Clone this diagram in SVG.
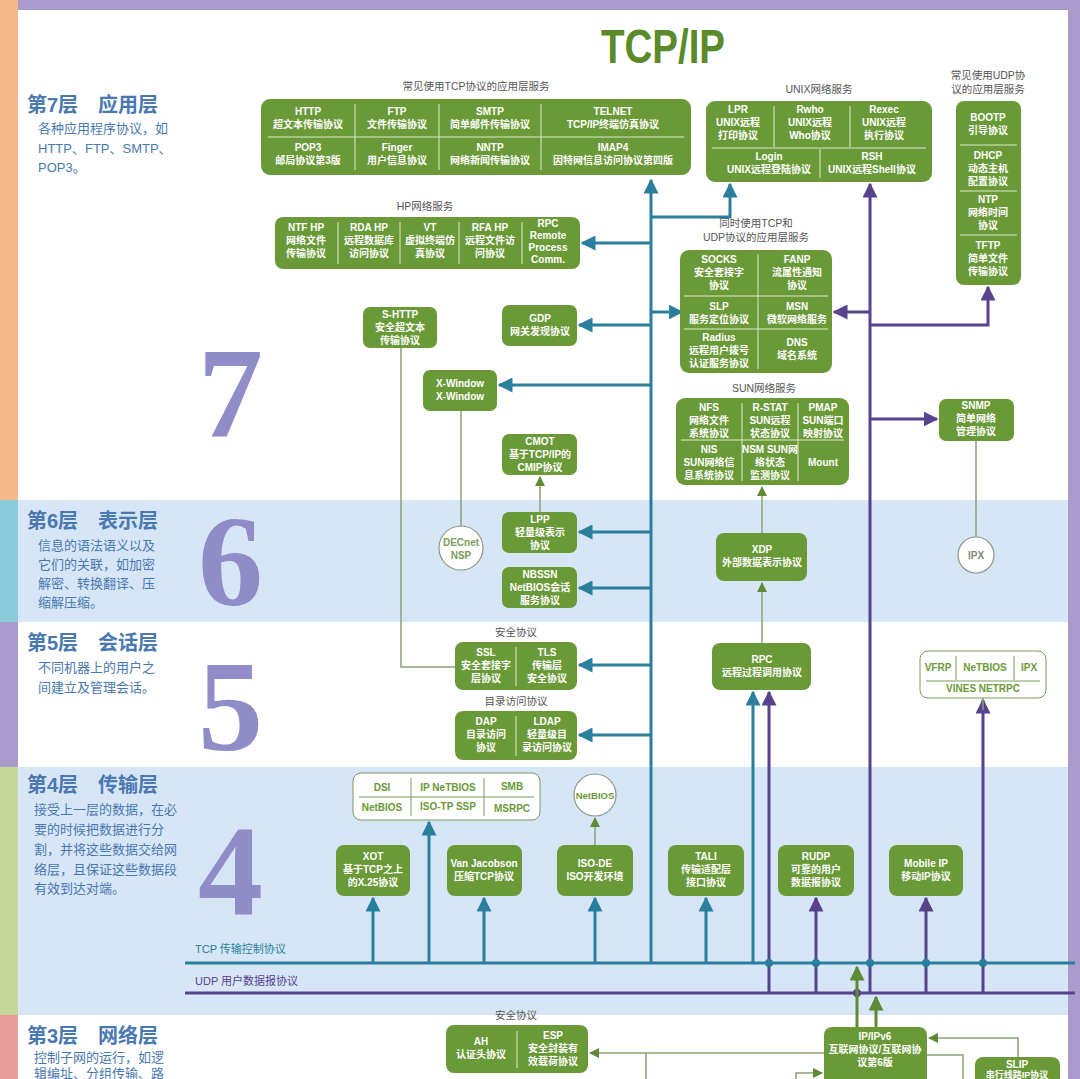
<svg xmlns="http://www.w3.org/2000/svg" width="1080" height="1079" viewBox="0 0 1080 1079">
<defs>
<marker id="at" viewBox="0 0 10 10" refX="9" refY="5" markerWidth="5" markerHeight="5" orient="auto" markerUnits="strokeWidth"><path d="M0,0L10,5L0,10z" fill="#2a7f9c"/></marker>
<marker id="ap" viewBox="0 0 10 10" refX="9" refY="5" markerWidth="5" markerHeight="5" orient="auto" markerUnits="strokeWidth"><path d="M0,0L10,5L0,10z" fill="#56438b"/></marker>
<marker id="ag" viewBox="0 0 10 10" refX="9" refY="5" markerWidth="5" markerHeight="5" orient="auto" markerUnits="strokeWidth"><path d="M0,0L10,5L0,10z" fill="#5e8a35"/></marker>
<marker id="ag2" viewBox="0 0 10 10" refX="9" refY="5" markerWidth="7" markerHeight="7" orient="auto" markerUnits="strokeWidth"><path d="M0,0L10,5L0,10z" fill="#5e8a35"/></marker>
</defs>
<style>
.b{fill:#6a9a37}
.w{fill:#fff;stroke:#7a9a5a;stroke-width:1}
.c{fill:#fff;stroke:#8a9a8a;stroke-width:1.2}
.d{stroke:#dfe9cf;stroke-width:1;fill:none}
.dg{stroke:#7a9a5a;stroke-width:1;fill:none}
text{font-family:"Liberation Sans","Noto Sans CJK SC",sans-serif}
.t{fill:#fff;font-size:10px;font-weight:bold;text-anchor:middle}
.g{fill:#6a9a37;font-size:10px;font-weight:bold;text-anchor:middle}
.lb{fill:#555;font-size:10.5px;text-anchor:middle}
.h{fill:#4a78b0;font-size:20px;font-weight:bold}
.s{fill:#4a78b0;font-size:13px}
.n{fill:#8f8cc8;font-size:130px;font-weight:bold;font-family:"Liberation Serif",serif}
.tc{fill:none;stroke:#2a7f9c;stroke-width:3}
.pu{fill:none;stroke:#56438b;stroke-width:3}
.gr{fill:none;stroke:#5e8a35;stroke-width:3}
.th{fill:none;stroke:#8aa07a;stroke-width:1.5}
</style>
<rect width="1080" height="1079" fill="#fff"/>
<rect x="0" y="500" width="1080" height="122" fill="#d6e6f7"/>
<rect x="0" y="767" width="1080" height="248" fill="#d6e6f7"/>
<rect x="0" y="0" width="18" height="500" fill="#f6b98c"/>
<rect x="0" y="500" width="18" height="122" fill="#8ccbd9"/>
<rect x="0" y="622" width="18" height="145" fill="#a99bcb"/>
<rect x="0" y="767" width="18" height="248" fill="#c5d89a"/>
<rect x="0" y="1015" width="18" height="64" fill="#e79d98"/>
<rect x="18" y="0" width="1062" height="10" fill="#a99bcb"/>
<rect x="1068" y="0" width="12" height="1079" fill="#a99bcb"/>

<g id="left">
<text class="h" x="27" y="112">第7层　应用层</text>
<text class="s" x="38" y="133">各种应用程序协议，如</text><text class="s" x="38" y="153">HTTP、FTP、SMTP、</text><text class="s" x="38" y="172">POP3。</text>
<text class="h" x="27" y="528">第6层　表示层</text>
<text class="s" x="38" y="550">信息的语法语义以及</text><text class="s" x="38" y="569">它们的关联，如加密</text><text class="s" x="38" y="588">解密、转换翻译、压</text><text class="s" x="38" y="607">缩解压缩。</text>
<text class="h" x="27" y="650">第5层　会话层</text>
<text class="s" x="38" y="672">不同机器上的用户之</text><text class="s" x="38" y="692">间建立及管理会话。</text>
<text class="h" x="27" y="792">第4层　传输层</text>
<text class="s" x="34" y="814">接受上一层的数据，在必</text><text class="s" x="34" y="834">要的时候把数据进行分</text><text class="s" x="34" y="854">割，并将这些数据交给网</text><text class="s" x="34" y="874">络层，且保证这些数据段</text><text class="s" x="34" y="893">有效到达对端。</text>
<text class="h" x="27" y="1043">第3层　网络层</text>
<text class="s" x="34" y="1062">控制子网的运行，如逻</text><text class="s" x="34" y="1078">辑编址、分组传输、路</text>
<text class="n" x="198" y="437">7</text><text class="n" x="198" y="605">6</text><text class="n" x="198" y="750">5</text><text class="n" x="198" y="915">4</text>
</g>
<text x="663" y="63" font-size="48" font-weight="bold" fill="#5a8a2a" text-anchor="middle" textLength="124" lengthAdjust="spacingAndGlyphs">TCP/IP</text>

<g id="connectors">
<path class="tc" d="M185,963H1075"/>
<path class="pu" d="M185,993H1075"/>
<text x="195" y="953" font-size="11" fill="#2a7f9c">TCP 传输控制协议</text>
<text x="195" y="985" font-size="11" fill="#56438b">UDP 用户数据报协议</text>
<path class="tc" d="M651,963V180" marker-end="url(#at)"/>
<path class="tc" d="M651,217H730V184" marker-end="url(#at)"/>
<path class="tc" d="M651,243H582" marker-end="url(#at)"/>
<path class="tc" d="M651,312H682" marker-end="url(#at)"/>
<path class="tc" d="M651,325H579" marker-end="url(#at)"/>
<path class="tc" d="M651,385H499" marker-end="url(#at)"/>
<path class="tc" d="M651,532H579" marker-end="url(#at)"/>
<path class="tc" d="M651,588H579" marker-end="url(#at)"/>
<path class="tc" d="M651,665H579" marker-end="url(#at)"/>
<path class="tc" d="M651,735H579" marker-end="url(#at)"/>
<path class="pu" d="M870,993V184" marker-end="url(#ap)"/>
<path class="pu" d="M870,312H834" marker-end="url(#ap)"/>
<path class="pu" d="M870,325H988V287" marker-end="url(#ap)"/>
<path class="pu" d="M870,419H937" marker-end="url(#ap)"/>
<path class="tc" d="M753,963V692" marker-end="url(#at)"/>
<path class="pu" d="M769,993V692" marker-end="url(#ap)"/>
<path class="pu" d="M983,993V700" marker-end="url(#ap)"/>
<path class="pu" d="M816,993V898" marker-end="url(#ap)"/>
<path class="pu" d="M926,993V898" marker-end="url(#ap)"/>
<path class="tc" d="M373,963V898" marker-end="url(#at)"/>
<path class="tc" d="M429,963V822" marker-end="url(#at)"/>
<path class="tc" d="M484,963V898" marker-end="url(#at)"/>
<path class="tc" d="M595,963V898" marker-end="url(#at)"/>
<path class="tc" d="M706,963V898" marker-end="url(#at)"/>
<g fill="#2a7f9c"><circle cx="769" cy="963" r="4"/><circle cx="816" cy="963" r="4"/><circle cx="870" cy="963" r="4"/><circle cx="926" cy="963" r="4"/><circle cx="983" cy="963" r="4"/></g>
<circle cx="857" cy="993" r="4" fill="#56438b"/>
<path class="gr" d="M857,1027V967" marker-end="url(#ag)"/>
<path class="gr" d="M876,1027V997" marker-end="url(#ag)"/>
<path class="th" d="M595,845V818" marker-end="url(#ag2)"/>
<path class="th" d="M540,512V477" marker-end="url(#ag2)"/>
<path class="th" d="M762,643V583" marker-end="url(#ag2)"/>
<path class="th" d="M762,533V487" marker-end="url(#ag2)"/>
<path class="th" d="M401,348V667H455"/>
<path class="th" d="M461,411V526"/>
<path class="th" d="M976,441V537"/>
<path class="th" d="M983,698V710"/>
<path class="th" d="M824,1053H590" marker-end="url(#ag2)"/>
<path class="th" d="M646,1053V1079"/>
<path class="th" d="M1018,1057V1038H929" marker-end="url(#ag2)"/>
<path class="th" d="M927,1055H963V1079"/>
<path class="th" d="M796,1079V1073H822" marker-end="url(#ag2)"/>
</g>

<g id="tcpapps">
<text class="lb" x="476" y="90">常见使用TCP协议的应用层服务</text>
<rect class="b" x="261" y="99" width="430" height="76" rx="9"/>
<path class="d" d="M268,137H684M355,104V170M439,104V170M541,104V170"/>
<text class="t" x="308" y="115">HTTP<tspan x="308" dy="13">超文本传输协议</tspan></text>
<text class="t" x="397" y="115">FTP<tspan x="397" dy="13">文件传输协议</tspan></text>
<text class="t" x="490" y="115">SMTP<tspan x="490" dy="13">简单邮件传输协议</tspan></text>
<text class="t" x="613" y="115">TELNET<tspan x="613" dy="13">TCP/IP终端仿真协议</tspan></text>
<text class="t" x="308" y="151">POP3<tspan x="308" dy="13">邮局协议第3版</tspan></text>
<text class="t" x="397" y="151">Finger<tspan x="397" dy="13">用户信息协议</tspan></text>
<text class="t" x="490" y="151">NNTP<tspan x="490" dy="13">网络新闻传输协议</tspan></text>
<text class="t" x="613" y="151">IMAP4<tspan x="613" dy="13">因特网信息访问协议第四版</tspan></text>
</g>
<g id="hp">
<text class="lb" x="425" y="210">HP网络服务</text>
<rect class="b" x="275" y="217" width="305" height="52" rx="8"/>
<path class="d" d="M338,222V264M400,222V264M459,222V264M522,222V264"/>
<text class="t" x="306" y="231">NTF HP<tspan x="306" dy="13">网络文件</tspan><tspan x="306" dy="13">传输协议</tspan></text>
<text class="t" x="369" y="231">RDA HP<tspan x="369" dy="13">远程数据库</tspan><tspan x="369" dy="13">访问协议</tspan></text>
<text class="t" x="430" y="231">VT<tspan x="430" dy="13">虚拟终端仿</tspan><tspan x="430" dy="13">真协议</tspan></text>
<text class="t" x="490" y="231">RFA HP<tspan x="490" dy="13">远程文件访</tspan><tspan x="490" dy="13">问协议</tspan></text>
<text class="t" x="548" y="227">RPC<tspan x="548" dy="12">Remote</tspan><tspan x="548" dy="12">Process</tspan><tspan x="548" dy="12">Comm.</tspan></text>
</g>
<g id="unix">
<text class="lb" x="819" y="93">UNIX网络服务</text>
<rect class="b" x="706" y="101" width="226" height="81" rx="9"/>
<path class="d" d="M712,148H926M774,106V147M850,106V147M820,149V178"/>
<text class="t" x="738" y="113">LPR<tspan x="738" dy="13">UNIX远程</tspan><tspan x="738" dy="13">打印协议</tspan></text>
<text class="t" x="810" y="113">Rwho<tspan x="810" dy="13">UNIX远程</tspan><tspan x="810" dy="13">Who协议</tspan></text>
<text class="t" x="884" y="113">Rexec<tspan x="884" dy="13">UNIX远程</tspan><tspan x="884" dy="13">执行协议</tspan></text>
<text class="t" x="769" y="160">Login<tspan x="769" dy="13">UNIX远程登陆协议</tspan></text>
<text class="t" x="872" y="160">RSH<tspan x="872" dy="13">UNIX远程Shell协议</tspan></text>
</g>
<g id="udpapps">
<text class="lb" x="988" y="79">常见使用UDP协<tspan x="988" dy="14">议的应用层服务</tspan></text>
<rect class="b" x="956" y="101" width="65" height="184" rx="8"/>
<path class="d" d="M960,145H1017M960,191H1017M960,235H1017"/>
<text class="t" x="988" y="121">BOOTP<tspan x="988" dy="13">引导协议</tspan></text>
<text class="t" x="988" y="159">DHCP<tspan x="988" dy="13">动态主机</tspan><tspan x="988" dy="13">配置协议</tspan></text>
<text class="t" x="988" y="203">NTP<tspan x="988" dy="13">网络时间</tspan><tspan x="988" dy="13">协议</tspan></text>
<text class="t" x="988" y="249">TFTP<tspan x="988" dy="13">简单文件</tspan><tspan x="988" dy="13">传输协议</tspan></text>
</g>
<g id="both">
<text class="lb" x="756" y="227">同时使用TCP和<tspan x="756" dy="14">UDP协议的应用层服务</tspan></text>
<rect class="b" x="680" y="250" width="152" height="123" rx="9"/>
<path class="d" d="M758,254V369M684,296H828M684,329H828"/>
<text class="t" x="719" y="263">SOCKS<tspan x="719" dy="13">安全套接字</tspan><tspan x="719" dy="13">协议</tspan></text>
<text class="t" x="797" y="263">FANP<tspan x="797" dy="13">流属性通知</tspan><tspan x="797" dy="13">协议</tspan></text>
<text class="t" x="719" y="310">SLP<tspan x="719" dy="13">服务定位协议</tspan></text>
<text class="t" x="797" y="310">MSN<tspan x="797" dy="13">微软网络服务</tspan></text>
<text class="t" x="719" y="341">Radius<tspan x="719" dy="13">远程用户拨号</tspan><tspan x="719" dy="13">认证服务协议</tspan></text>
<text class="t" x="797" y="346">DNS<tspan x="797" dy="13">域名系统</tspan></text>
</g>
<g id="sun">
<text class="lb" x="764" y="392">SUN网络服务</text>
<rect class="b" x="676" y="398" width="173" height="87" rx="9"/>
<path class="d" d="M742,403V481M798,403V481M681,440H844"/>
<text class="t" x="709" y="411">NFS<tspan x="709" dy="13">网络文件</tspan><tspan x="709" dy="13">系统协议</tspan></text>
<text class="t" x="770" y="411">R-STAT<tspan x="770" dy="13">SUN远程</tspan><tspan x="770" dy="13">状态协议</tspan></text>
<text class="t" x="823" y="411">PMAP<tspan x="823" dy="13">SUN端口</tspan><tspan x="823" dy="13">映射协议</tspan></text>
<text class="t" x="709" y="453">NIS<tspan x="709" dy="13">SUN网络信</tspan><tspan x="709" dy="13">息系统协议</tspan></text>
<text class="t" x="770" y="453">NSM SUN网<tspan x="770" dy="13">络状态</tspan><tspan x="770" dy="13">监测协议</tspan></text>
<text class="t" x="823" y="466">Mount</text>
</g>
<g id="snmp"><rect class="b" x="939" y="399" width="75" height="42" rx="7"/><text class="t" x="976" y="409">SNMP<tspan x="976" dy="13">简单网络</tspan><tspan x="976" dy="13">管理协议</tspan></text></g>
<g id="ipx"><circle class="c" cx="976" cy="555" r="18"/><text class="g" x="976" y="559" style="fill:#7a8a7a">IPX</text></g>
<g id="shttp"><rect class="b" x="363" y="307" width="74" height="41" rx="7"/><text class="t" x="400" y="318">S-HTTP<tspan x="400" dy="13">安全超文本</tspan><tspan x="400" dy="13">传输协议</tspan></text></g>
<g id="gdp"><rect class="b" x="502" y="305" width="75" height="41" rx="7"/><text class="t" x="540" y="322">GDP<tspan x="540" dy="13">网关发现协议</tspan></text></g>
<g id="xwin"><rect class="b" x="423" y="370" width="74" height="41" rx="7"/><text class="t" x="460" y="387">X-Window<tspan x="460" dy="13">X-Window</tspan></text></g>
<g id="cmot"><rect class="b" x="502" y="434" width="75" height="41" rx="7"/><text class="t" x="540" y="445">CMOT<tspan x="540" dy="13">基于TCP/IP的</tspan><tspan x="540" dy="13">CMIP协议</tspan></text></g>
<g id="decnet"><circle class="c" cx="461" cy="548" r="22"/><text class="g" x="461" y="546" style="fill:#7a9a5a">DECnet<tspan x="461" dy="13">NSP</tspan></text></g>
<g id="lpp"><rect class="b" x="502" y="512" width="75" height="41" rx="7"/><text class="t" x="540" y="523">LPP<tspan x="540" dy="13">轻量级表示</tspan><tspan x="540" dy="13">协议</tspan></text></g>
<g id="nbssn"><rect class="b" x="502" y="567" width="75" height="41" rx="7"/><text class="t" x="540" y="578">NBSSN<tspan x="540" dy="13">NetBIOS会话</tspan><tspan x="540" dy="13">服务协议</tspan></text></g>
<g id="ssl">
<text class="lb" x="516" y="636">安全协议</text>
<rect class="b" x="455" y="642" width="122" height="48" rx="8"/><path class="d" d="M516,647V686"/>
<text class="t" x="486" y="656">SSL<tspan x="486" dy="13">安全套接字</tspan><tspan x="486" dy="13">层协议</tspan></text>
<text class="t" x="547" y="656">TLS<tspan x="547" dy="13">传输层</tspan><tspan x="547" dy="13">安全协议</tspan></text>
</g>
<g id="dap">
<text class="lb" x="516" y="705">目录访问协议</text>
<rect class="b" x="455" y="711" width="122" height="49" rx="8"/><path class="d" d="M516,716V756"/>
<text class="t" x="486" y="725">DAP<tspan x="486" dy="13">目录访问</tspan><tspan x="486" dy="13">协议</tspan></text>
<text class="t" x="547" y="725">LDAP<tspan x="547" dy="13">轻量级目</tspan><tspan x="547" dy="13">录访问协议</tspan></text>
</g>
<g id="xdp"><rect class="b" x="716" y="533" width="91" height="48" rx="8"/><text class="t" x="762" y="553">XDP<tspan x="762" dy="13">外部数据表示协议</tspan></text></g>
<g id="rpc"><rect class="b" x="712" y="643" width="99" height="47" rx="8"/><text class="t" x="762" y="663">RPC<tspan x="762" dy="13">远程过程调用协议</tspan></text></g>
<g id="vines">
<rect class="w" x="920" y="651" width="126" height="47" rx="8"/><path class="dg" d="M926,681H1040M956,656V680M1014,656V680"/>
<text class="g" x="938" y="671">VFRP</text><text class="g" x="985" y="671">NeTBIOS</text><text class="g" x="1029" y="671">IPX</text>
<text class="g" x="983" y="692">VINES NETRPC</text>
</g>
<g id="dsi">
<rect class="w" x="353" y="773" width="187" height="47" rx="8"/><path class="dg" d="M359,797H534M411,778V816M484,778V816"/>
<text class="g" x="382" y="791">DSI</text><text class="g" x="448" y="791">IP NeTBIOS</text><text class="g" x="512" y="790">SMB</text>
<text class="g" x="382" y="811">NetBIOS</text><text class="g" x="448" y="810">ISO-TP SSP</text><text class="g" x="512" y="812">MSRPC</text>
</g>
<g id="netbios"><circle class="c" cx="595" cy="795" r="21"/><text class="g" x="595" y="799" style="font-size:9.5px">NetBIOS</text></g>
<g id="xot"><rect class="b" x="336" y="845" width="74" height="51" rx="8"/><text class="t" x="373" y="860">XOT<tspan x="373" dy="13">基于TCP之上</tspan><tspan x="373" dy="13">的X.25协议</tspan></text></g>
<g id="vj"><rect class="b" x="447" y="845" width="75" height="51" rx="8"/><text class="t" x="484" y="867">Van Jacobson<tspan x="484" dy="13">压缩TCP协议</tspan></text></g>
<g id="isode"><rect class="b" x="557" y="845" width="76" height="51" rx="8"/><text class="t" x="595" y="867">ISO-DE<tspan x="595" dy="13">ISO开发环境</tspan></text></g>
<g id="tali"><rect class="b" x="668" y="845" width="76" height="51" rx="8"/><text class="t" x="706" y="860">TALI<tspan x="706" dy="13">传输适配层</tspan><tspan x="706" dy="13">接口协议</tspan></text></g>
<g id="rudp"><rect class="b" x="778" y="845" width="76" height="51" rx="8"/><text class="t" x="816" y="860">RUDP<tspan x="816" dy="13">可靠的用户</tspan><tspan x="816" dy="13">数据报协议</tspan></text></g>
<g id="mip"><rect class="b" x="889" y="845" width="74" height="51" rx="8"/><text class="t" x="926" y="867">Mobile IP<tspan x="926" dy="13">移动IP协议</tspan></text></g>
<g id="ahesp">
<text class="lb" x="516" y="1019">安全协议</text>
<rect class="b" x="446" y="1025" width="142" height="48" rx="8"/><path class="d" d="M517,1031V1068"/>
<text class="t" x="481" y="1045">AH<tspan x="481" dy="13">认证头协议</tspan></text>
<text class="t" x="553" y="1039">ESP<tspan x="553" dy="13">安全封装有</tspan><tspan x="553" dy="13">效载荷协议</tspan></text>
</g>
<g id="ip"><rect class="b" x="824" y="1027" width="103" height="60" rx="8"/><text class="t" x="875" y="1040">IP/IPv6<tspan x="875" dy="13">互联网协议/互联网协</tspan><tspan x="875" dy="13">议第6版</tspan></text></g>
<g id="slip"><rect class="b" x="975" y="1057" width="85" height="30" rx="8"/><text class="t" x="1017" y="1068">SLIP<tspan x="1017" dy="10" font-size="9">串行线路IP协议</tspan></text></g>
</svg>
